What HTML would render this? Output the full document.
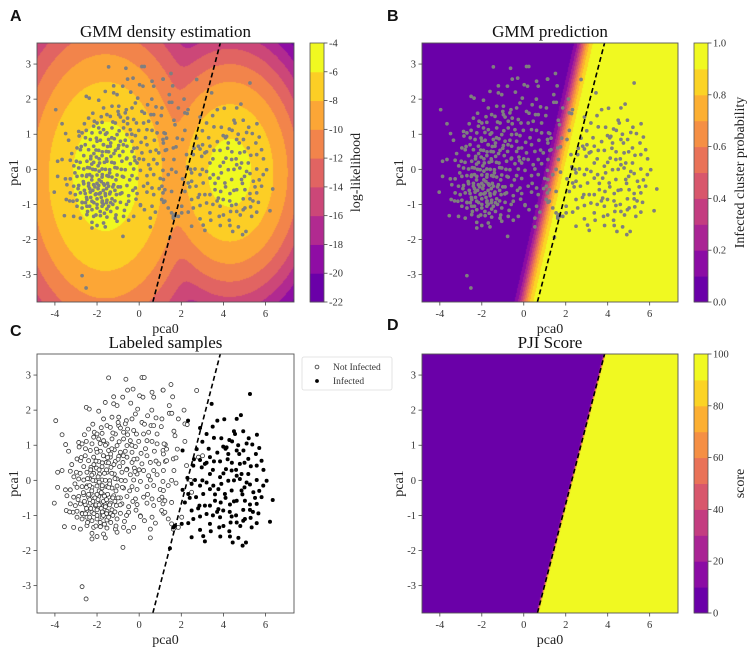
<!DOCTYPE html>
<html><head><meta charset="utf-8">
<style>
html,body{margin:0;padding:0;background:#fff;}
#wrap{position:relative;width:750px;height:651px;overflow:hidden;font-family:"Liberation Serif",serif;}
canvas{position:absolute;}
svg{position:absolute;left:0;top:0;}
</style></head>
<body>
<div id="wrap">
<canvas id="cvA" style="left:37px;top:43px" width="257" height="259"></canvas>
<canvas id="cvB" style="left:422px;top:43px" width="256" height="259"></canvas>
<canvas id="cvD" style="left:422px;top:354px" width="256" height="259"></canvas>
<svg id="svg" width="750" height="651"></svg>
</div>
<script>
// ---- data ----
const xTicks = [-4,-2,0,2,4,6];
const yTicks = [-3,-2,-1,0,1,2,3];
const xLim = [-4.85,7.35];
const yLim = [-3.78,3.6];
const boundary = [[0.65,-3.78],[3.85,3.6]];
const gmmMeans = [[-1.6,-0.2],[4.3,-0.1]];
const gmmSigmas = [[1.1,1.1],[0.9,0.85]];
const gmmPeaks = [-5,-5.35];
const cbTicksA = ["-4","-6","-8","-10","-12","-14","-16","-18","-20","-22"];
const cbTicksB = ["1.0","0.8","0.6","0.4","0.2","0.0"];
const cbTicksD = ["100","80","60","40","20","0"];
const infected = [[5.26,2.46],[3.44,2.18],[4.83,1.86],[4.04,1.74],[3.71,1.70],[4.63,1.75],[2.32,1.70],[3.49,1.53],[2.89,1.49],[4.5,1.40],[4.55,1.32],[4.94,1.40],[3.2,1.32],[5.59,1.30],[3.55,1.21],[4.28,1.15],[4.41,1.11],[5.1,1.05],[5.37,1.02],[3.99,0.96],[4.15,0.94],[4.63,0.85],[5.70,0.92],[2.06,0.85],[2.73,0.89],[3.71,0.79],[4.23,0.75],[4.75,0.75],[5.54,0.75],[3.36,0.66],[2.89,0.58],[3.55,0.54],[3.84,0.54],[5.18,0.61],[5.81,0.56],[3.12,0.47],[4.78,0.47],[5.58,0.42],[2.57,0.42],[4.12,0.32],[4.39,0.28],[2.97,0.37],[4.86,0.18],[4.63,0.13],[3.36,0.18],[5.18,0.18],[2.29,0.07],[2.65,0.01],[3.84,0.09],[4.23,-0.01],[4.78,0.04],[5.10,-0.06],[3.2,-0.06],[6.05,-0.01],[5.58,0.01],[3.52,-0.15],[3.76,-0.25],[3.36,-0.25],[2.89,-0.15],[2.49,-0.10],[4.39,-0.29],[4.86,-0.29],[5.26,-0.12],[5.89,-0.15],[2.06,-0.27],[2.33,-0.39],[3.04,-0.39],[4.07,-0.39],[5.42,-0.34],[5.81,-0.48],[6.34,-0.56],[2.70,-0.48],[3.6,-0.58],[3.87,-0.63],[4.63,-0.58],[5.02,-0.58],[2.17,-0.63],[2.86,-0.72],[3.12,-0.72],[3.36,-0.72],[4.31,-0.69],[5.26,-0.69],[5.58,-0.67],[2.49,-0.86],[3.76,-0.82],[3.99,-0.86],[4.94,-0.84],[5.26,-0.84],[5.66,-0.94],[3.2,-0.96],[2.89,-1.03],[4.39,-1.03],[5.02,-1.10],[3.84,-1.05],[5.29,-1.07],[2.57,-1.10],[3.36,-1.24],[2.33,-1.22],[2.02,-1.24],[4.34,-1.20],[4.63,-1.20],[4.94,-1.15],[5.34,-1.34],[6.21,-1.18],[5.58,-1.22],[3.80,-1.34],[2.89,-1.41],[4.28,-1.45],[2.49,-1.62],[3.04,-1.59],[4.31,-1.60],[4.71,-1.64],[3.12,-1.74],[4.44,-1.77],[5.07,-1.77],[4.91,-1.86],[1.46,-1.94],[1.62,-1.34],[1.70,-1.29],[4.5,0.0],[4.1,-0.5],[3.5,0.3],[5.0,0.5],[4.6,-1.0],[3.0,0.0],[5.5,-0.5],[4.2,0.6],[3.9,-0.1],[4.9,-0.4]];
const extraInf = [[3.3,0.9],[3.9,1.2],[4.7,1.0],[5.3,0.4],[5.0,-0.2],[4.5,-0.6],[3.6,-0.4],[3.2,0.5],[2.8,-0.8],[3.5,-1.0],[4.0,-1.3],[4.8,-1.3],[5.4,-0.9],[5.9,0.3],[4.4,0.5],[4.0,0.2],[3.7,-0.9],[4.3,-0.9],[5.2,1.2],[2.6,0.6],[3.0,1.1],[4.6,0.3],[5.7,-0.3],[3.4,-1.45],[4.1,0.9],[2.4,-0.5],[4.95,0.85],[3.85,-1.6]];
const notInfected = [[-1.45,2.92],[-0.63,2.88],[0.13,2.93],[0.24,2.93],[-0.55,2.57],[-0.29,2.60],[0.02,2.41],[0.18,2.37],[0.69,2.37],[0.61,2.51],[1.13,2.57],[-1.21,2.38],[-0.78,2.37],[-1.61,2.22],[-1.21,2.18],[-1.05,2.13],[-2.51,2.08],[-2.37,2.03],[-1.92,1.97],[-0.07,2.03],[-0.18,1.89],[0.40,1.84],[0.80,1.78],[1.08,1.75],[-3.96,1.70],[-1.29,1.80],[-0.97,1.80],[-0.61,1.70],[-1.69,1.75],[-0.34,1.75],[0.13,1.65],[0.56,1.56],[0.69,1.56],[1.05,1.53],[-2.40,1.46],[-1.53,1.56],[-1.37,1.51],[-0.97,1.56],[-0.89,1.49],[-0.66,1.61],[-0.55,1.46],[-0.26,1.42],[-0.13,1.32],[0.21,1.32],[0.45,1.37],[0.85,1.32],[-3.66,1.30],[-2.13,1.37],[-2.0,1.32],[-1.76,1.34],[-1.13,1.32],[-0.74,1.37],[-2.16,1.23],[-1.92,1.18],[-1.69,1.13],[-1.29,1.18],[-0.74,1.18],[-0.42,1.13],[-0.02,1.11],[0.37,1.13],[0.61,1.11],[-2.87,1.08],[-2.71,1.04],[-2.51,1.11],[-2.24,1.04],[-1.53,1.04],[-1.05,0.99],[-0.58,0.99],[-0.18,0.96],[0.85,1.04],[1.24,1.02],[-3.49,1.02],[-3.35,0.83],[-2.32,0.85],[-2.03,0.89],[-1.84,0.83],[-1.45,0.85],[-1.18,0.87],[-0.89,0.80],[-0.66,0.83],[-0.34,0.80],[0.09,0.77],[0.72,0.83],[1.13,0.85],[-2.56,0.70],[-2.16,0.66],[-1.69,0.70],[-1.37,0.66],[-0.97,0.68],[-0.58,0.66],[-0.10,0.61],[0.37,0.70],[-2.95,0.61],[-2.79,0.56],[-2.40,0.56],[-1.92,0.54],[-1.56,0.51],[-1.13,0.54],[-0.77,0.51],[-0.34,0.51],[0.13,0.47],[0.53,0.51],[0.93,0.47],[1.24,0.54],[-2.63,0.39],[-2.29,0.37],[-2.03,0.35],[-1.76,0.39],[-1.34,0.37],[-0.93,0.39],[-0.58,0.32],[-0.23,0.35],[0.21,0.28],[0.69,0.28],[-3.87,0.23],[-3.66,0.28],[-3.27,0.26],[-2.98,0.23],[-2.48,0.23],[-2.16,0.20],[-1.88,0.18],[-1.53,0.23],[-1.18,0.18],[-0.82,0.23],[-0.42,0.16],[-0.10,0.18],[0.45,0.13],[0.85,0.16],[-2.87,0.04],[-2.63,0.01],[-2.35,0.04],[-2.08,-0.01],[-1.76,0.01],[-1.40,-0.01],[-1.05,0.04],[-0.66,-0.01],[-0.26,0.01],[0.06,-0.03],[0.53,0.01],[1.13,-0.03],[-3.87,-0.20],[-3.50,-0.27],[-3.27,-0.27],[-2.95,-0.2],[-2.71,-0.18],[-2.48,-0.16],[-2.24,-0.2],[-2.0,-0.16],[-1.76,-0.22],[-1.53,-0.18],[-1.29,-0.22],[-1.05,-0.16],[-0.74,-0.22],[-0.34,-0.18],[-0.10,-0.26],[0.37,-0.18],[0.69,-0.15],[1.0,-0.26],[-3.43,-0.44],[-3.11,-0.48],[-2.87,-0.46],[-2.63,-0.41],[-2.40,-0.48],[-2.16,-0.44],[-1.92,-0.46],[-1.69,-0.41],[-1.45,-0.48],[-1.21,-0.44],[-0.89,-0.50],[-0.58,-0.46],[-0.18,-0.53],[0.21,-0.48],[0.61,-0.53],[1.08,-0.48],[-4.03,-0.65],[-3.27,-0.67],[-3.03,-0.72],[-2.79,-0.67],[-2.56,-0.69],[-2.32,-0.65],[-2.08,-0.72],[-1.84,-0.67],[-1.61,-0.69],[-1.37,-0.65],[-1.08,-0.72],[-0.82,-0.67],[-0.50,-0.75],[-0.10,-0.69],[0.37,-0.65],[0.69,-0.72],[1.13,-0.67],[-3.46,-0.86],[-3.14,-0.91],[-2.95,-0.88],[-2.71,-0.94],[-2.48,-0.86],[-2.24,-0.91],[-2.0,-0.84],[-1.76,-0.94],[-1.53,-0.88],[-1.29,-0.84],[-0.89,-0.94],[-0.50,-0.91],[0.06,-1.01],[0.61,-1.05],[1.16,-0.94],[-2.95,-1.05],[-2.71,-1.10],[-2.48,-1.05],[-2.24,-1.15],[-2.0,-1.10],[-1.76,-1.05],[-1.53,-1.13],[-1.05,-1.10],[-0.70,-1.17],[0.06,-1.03],[0.25,-1.15],[0.77,-1.22],[-3.55,-1.32],[-3.11,-1.34],[-2.79,-1.39],[-2.48,-1.29],[-2.16,-1.34],[-1.84,-1.32],[-1.53,-1.36],[-1.13,-1.39],[-0.74,-1.34],[-0.26,-1.34],[0.53,-1.39],[-2.24,-1.51],[-2.0,-1.60],[-2.24,-1.67],[-1.61,-1.64],[-1.05,-1.48],[-0.5,-1.45],[-1.69,-1.53],[-0.77,-1.91],[0.53,-1.64],[-2.71,-3.03],[-2.52,-3.38],[1.14,2.57],[1.51,2.73],[1.59,2.38],[2.73,2.56],[1.43,2.13],[2.13,2.0],[1.43,1.91],[1.55,1.91],[1.86,1.75],[2.17,1.61],[2.28,1.59],[1.65,1.40],[1.70,1.27],[2.17,1.11],[1.18,1.04],[1.30,0.89],[1.81,0.89],[1.15,0.75],[1.30,0.56],[1.62,0.61],[1.75,0.64],[2.25,0.42],[2.81,0.66],[3.01,0.70],[1.15,0.28],[1.65,0.28],[1.54,0.0],[1.75,-0.08],[1.38,-0.15],[1.15,-0.29],[1.22,-0.58],[1.54,-0.63],[1.07,-0.86],[1.22,-0.91],[2.44,0.0],[2.49,-0.34],[1.38,-1.10],[1.54,-1.24],[1.70,-1.34],[1.86,-1.34],[1.62,-1.39],[2.02,-1.05],[-2.1,-0.5],[-1.9,-0.3],[-1.7,-0.6],[-2.3,-0.8],[-1.5,-0.4],[-1.8,-0.8],[-2.0,-1.0],[-1.6,0.0],[-1.4,-0.7],[-2.4,-0.4],[-2.2,0.0],[-1.9,0.3],[-1.3,0.2],[-1.1,-0.3],[-2.6,-0.6],[-1.75,-0.15],[-2.05,-0.7],[-1.55,-0.95],[-1.25,-0.5],[-2.5,-0.2],[-1.45,0.5],[-1.7,0.7],[-2.15,0.45],[-1.0,0.6],[-0.8,-0.2],[-2.35,-1.05],[-1.85,-1.2],[-1.35,-1.2],[-2.7,-0.95],[-0.9,-0.7],[-1.6,1.0],[-1.3,0.9],[-2.0,0.8],[-0.6,0.3],[-2.8,0.2],[-1.15,-0.9],[-1.95,0.1],[-1.65,-0.45],[-2.25,-0.3],[-1.45,-0.2]];
const extraNot = [[-2.2,-0.6],[-1.95,-0.55],[-1.8,-0.35],[-2.35,-0.55],[-1.6,-0.75],[-2.15,-0.95],[-1.7,-1.0],[-2.5,-0.8],[-1.35,-0.95],[-1.9,-0.05],[-1.55,0.3],[-2.05,0.55],[-1.2,0.45],[-2.45,0.05],[-1.45,-1.05],[-2.65,-0.35],[-1.0,-0.5],[-1.15,0.05],[-2.3,0.3],[-1.75,0.5],[-1.35,0.75],[-1.85,1.05],[-2.55,0.9],[-0.75,0.7],[-0.45,-0.3],[-0.25,0.6],[-3.05,-0.1],[-3.2,0.45],[-2.9,-0.55],[-1.65,-1.25],[-2.05,-1.3],[-1.25,-1.0],[-0.95,1.1],[-0.35,1.0],[0.3,0.9],[0.0,0.3],[0.4,-0.4],[-0.6,-1.0],[-2.6,1.3],[-1.0,1.65],[-0.4,2.2],[0.6,2.0],[-1.4,-0.1],[-1.9,-0.7],[-2.0,-0.4],[-1.55,-0.55],[-2.25,0.15],[-1.65,0.2],[-2.75,0.65],[-3.3,-0.9],[-0.15,-0.85],[0.8,0.55],[0.95,-0.55],[-1.1,-1.3],[-2.45,-1.2],[-2.85,0.95],[-1.25,1.35],[-0.55,1.3],[0.25,1.6],[-1.8,1.5],[-2.2,1.6],[-3.1,0.1],[-2.35,-0.15],[-1.15,-0.6],[-0.3,-0.6],[-1.75,-0.9],[-2.55,-0.95],[-1.5,0.65],[-0.85,0.0],[-0.2,0.25]];

// ---- layout ----
const panels = {
  A:{x:37,y:43,w:257,h:259},
  B:{x:422,y:43,w:256,h:259},
  C:{x:37,y:354,w:257,h:259},
  D:{x:422,y:354,w:256,h:259}
};
const plasmaStops = ["#6a00a8","#8f0da4","#b12a90","#cc4778","#e16462","#f2844b","#fca636","#fcce25","#f0f921"];
function hex(c){return [parseInt(c.slice(1,3),16),parseInt(c.slice(3,5),16),parseInt(c.slice(5,7),16)];}
function plasma(t){
  const n=plasmaStops.length-1; const f=Math.max(0,Math.min(1,t))*n; const i=Math.min(n-1,Math.floor(f)); const r=f-i;
  const a=hex(plasmaStops[i]), b=hex(plasmaStops[i+1]);
  return [0,1,2].map(k=>Math.round(a[k]+(b[k]-a[k])*r));
}
function bandColors(n){const out=[];for(let i=0;i<n;i++)out.push(plasma(i/(n-1)));return out;}
function sx(p,v){return p.x+(v-xLim[0])/(xLim[1]-xLim[0])*p.w;}
function sy(p,v){return p.y+(yLim[1]-v)/(yLim[1]-yLim[0])*p.h;}
function invx(p,px){return xLim[0]+px/p.w*(xLim[1]-xLim[0]);}
function invy(p,py){return yLim[1]-py/p.h*(yLim[1]-yLim[0]);}

function logL(x,y){
  const t=gmmMeans.map((m,k)=>{const dx=(x-m[0])/gmmSigmas[k][0],dy=(y-m[1])/gmmSigmas[k][1];return gmmPeaks[k]-0.5*(dx*dx+dy*dy);});
  const mx=Math.max(...t); return mx+Math.log(t.reduce((s,v)=>s+Math.exp(v-mx),0));
}
function lineX(y){const [a,b]=boundary;return a[0]+(y-a[1])*(b[0]-a[0])/(b[1]-a[1]);}
function probB(x,y){const xm=0+(y+3.78)*0.386;return 1/(1+Math.exp(-4.9*(x-xm)));}
function scoreD(x,y){return 100/(1+Math.exp(-40*(x-lineX(y))));}

function paint(id,p,fn){
  const cv=document.getElementById(id),ctx=cv.getContext('2d');const img=ctx.createImageData(cv.width,cv.height);
  for(let j=0;j<cv.height;j++)for(let i=0;i<cv.width;i++){
    const c=fn(invx(p,i+0.5),invy(p,j+0.5));const o=(j*cv.width+i)*4;
    img.data[o]=c[0];img.data[o+1]=c[1];img.data[o+2]=c[2];img.data[o+3]=255;}
  ctx.putImageData(img,0,0);
}
const colA=bandColors(9), col10=bandColors(10);
paint('cvA',panels.A,(x,y)=>colA[Math.max(0,Math.min(8,Math.floor((logL(x,y)+22)/2)))]);
paint('cvB',panels.B,(x,y)=>col10[Math.max(0,Math.min(9,Math.floor(probB(x,y)*10)))]);
paint('cvD',panels.D,(x,y)=>col10[Math.max(0,Math.min(9,Math.floor(scoreD(x,y)/10)))]);

const NS="http://www.w3.org/2000/svg";
const svg=document.getElementById('svg');
function mk(tag,attrs,parent){const e=document.createElementNS(NS,tag);for(const k in attrs)e.setAttribute(k,attrs[k]);(parent||svg).appendChild(e);return e;}
function txt(s,attrs,parent){const e=mk('text',attrs,parent);e.textContent=s;return e;}

const defs=mk('defs',{});
for(const k in panels){const p=panels[k];const cp=mk('clipPath',{id:'clip'+k},defs);mk('rect',{x:p.x,y:p.y,width:p.w,height:p.h},cp);}

function drawPoints(k,pts,style){
  const p=panels[k];const g=mk('g',{'clip-path':'url(#clip'+k+')'});
  
  
  pts.forEach(d=>{
    let c;
    if(style==='grey') c=mk('circle',{cx:sx(p,d[0]),cy:sy(p,d[1]),r:1.85,fill:'#7f7f7f'},g);
    else if(style==='open') c=mk('circle',{cx:sx(p,d[0]),cy:sy(p,d[1]),r:2,fill:'#fff',stroke:'#333','stroke-width':0.8},g);
    else c=mk('circle',{cx:sx(p,d[0]),cy:sy(p,d[1]),r:2,fill:'#000'},g);
    
    
  });
}
function drawLine(k){
  const p=panels[k];
  const l=mk('line',{x1:sx(p,boundary[0][0]),y1:sy(p,boundary[0][1]),x2:sx(p,boundary[1][0]),y2:sy(p,boundary[1][1]),stroke:'#000','stroke-width':1.6,'stroke-dasharray':'5,3','clip-path':'url(#clip'+k+')'});
  
  
}
function drawAxes(k,title){
  const p=panels[k];
  const f=mk('rect',{x:p.x,y:p.y,width:p.w,height:p.h,fill:'none',stroke:'#555','stroke-width':0.9});
  
  
  xTicks.forEach(v=>{const X=sx(p,v);mk('line',{x1:X,x2:X,y1:p.y+p.h,y2:p.y+p.h+3.5,stroke:'#444','stroke-width':0.8});
    const t=txt(String(v),{x:X,y:p.y+p.h+15,'text-anchor':'middle','font-size':10.5,fill:'#333'});
    
    });
  yTicks.forEach(v=>{const Y=sy(p,v);mk('line',{x1:p.x-3.5,x2:p.x,y1:Y,y2:Y,stroke:'#444','stroke-width':0.8});
    const t=txt(String(v),{x:p.x-6,y:Y+3.5,'text-anchor':'end','font-size':10.5,fill:'#333'});
    
    });
  const xl=txt('pca0',{x:p.x+p.w/2,y:p.y+p.h+31,'text-anchor':'middle','font-size':14,fill:'#222'});
  
  
  const yl=txt('pca1',{x:0,y:0,'text-anchor':'middle','font-size':14,fill:'#222',transform:'translate('+(p.x-19)+','+(p.y+p.h/2)+') rotate(-90)'});
  
  
  const tt=txt(title,{x:p.x+p.w/2,y:p.y-6,'text-anchor':'middle','font-size':17,fill:'#111'});
  
  
}
function drawColorbar(k,x,labels,nb,label){
  const p=panels[k];const cols=bandColors(nb);const w=14;
  const g=mk('g',{});
  
  
  for(let i=0;i<nb;i++){const h=p.h/nb;mk('rect',{x:x,y:p.y+p.h-(i+1)*h,width:w,height:h+0.5,fill:'rgb('+cols[i].join(',')+')'},g);}
  mk('rect',{x:x,y:p.y,width:w,height:p.h,fill:'none',stroke:'#555','stroke-width':0.8},g);
  labels.forEach((s,i)=>{const Y=p.y+i*p.h/(labels.length-1);mk('line',{x1:x+w,x2:x+w+3.5,y1:Y,y2:Y,stroke:'#444','stroke-width':0.8},g);
    const t=txt(s,{x:x+w+5,y:Y+3.5,'font-size':10.5,fill:'#333'},g);
    
    });
  const cl=txt(label,{x:0,y:0,'text-anchor':'middle','font-size':14,fill:'#222',transform:'translate('+(x+w+36)+','+(p.y+p.h/2)+') rotate(-90)'},g);
  
  
}
const notAll=notInfected.concat(extraNot);
const infAll=infected.concat(extraInf);
const allPts=notAll.concat(infAll);
drawPoints('A',allPts,'grey');drawLine('A');drawAxes('A','GMM density estimation');
drawColorbar('A',310,cbTicksA,9,'log-likelihood');
drawPoints('B',allPts,'grey');drawLine('B');drawAxes('B','GMM prediction');
drawColorbar('B',694,cbTicksB,10,'Infected cluster probability');
drawPoints('C',notAll,'open');drawPoints('C',infAll,'filled');drawLine('C');drawAxes('C','Labeled samples');
drawLine('D');drawAxes('D','PJI Score');
drawColorbar('D',694,cbTicksD,10,'score');

const lg=mk('g',{});


mk('rect',{x:302,y:357,width:90,height:33,fill:'#fff',stroke:'#ddd','stroke-width':0.8,rx:2},lg);
mk('circle',{cx:317,cy:367,r:1.9,fill:'#fff',stroke:'#333','stroke-width':0.8},lg);
mk('circle',{cx:317,cy:381,r:1.9,fill:'#000'},lg);
const l1=txt('Not Infected',{x:333,y:370,'font-size':9.5,fill:'#333'},lg);


const l2=txt('Infected',{x:333,y:384,'font-size':9.5,fill:'#333'},lg);



[['A',10,21],['B',387,21],['C',10,336],['D',387,330]].forEach(a=>{
  const t=txt(a[0],{x:a[1],y:a[2],'font-size':16,'font-weight':'bold',fill:'#111','font-family':'Liberation Sans, sans-serif'});
  
  
});
</script>
</body></html>
